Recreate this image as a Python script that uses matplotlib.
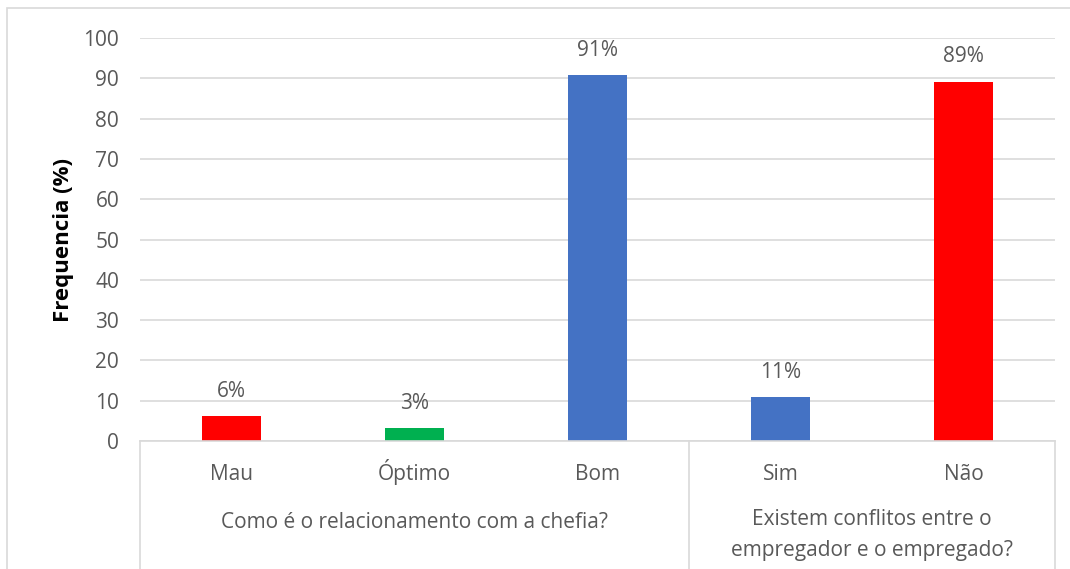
import matplotlib.pyplot as plt
from matplotlib.patches import Rectangle

# survey answers (percent)
categories = ["Mau", "Óptimo", "Bom", "Sim", "Não"]
values = [6.2, 3.2, 90.8, 10.9, 89.1]
colors = ["#FF0000", "#00B050", "#4472C4", "#4472C4", "#FF0000"]
groups = ["Como é o relacionamento com a chefia?",
          "Existem conflitos entre o\nempregador e o empregado?"]
group_spans = [(0, 2), (3, 4)]
yticks = [0, 10, 20, 30, 40, 50, 60, 70, 80, 90, 100]

W, H = 1070, 569
plt.rcParams['font.family'] = ['Open Sans', 'DejaVu Sans']
txt_color = "#595959"
grid_color = "#D9D9D9"
fs = 15

fig = plt.figure(figsize=(W / 100, H / 100), dpi=100)
# chart frame (runs off the right and bottom edges)
fig.patches.append(Rectangle((7 / W, -0.05), 1.0, (H - 8) / H + 0.05,
                             transform=fig.transFigure, fill=False,
                             edgecolor=grid_color, linewidth=1.2))

x0, x1, y0, y1 = 140, 1055, 441, 38
ax = fig.add_axes([x0 / W, (H - y0) / H, (x1 - x0) / W, (y0 - y1) / H])

xs = range(len(categories))
ax.bar(xs, values, width=0.32, color=colors, zorder=3)
for x, v in zip(xs, values):
    ax.annotate("%.0f%%" % v, (x, v), xytext=(0, 18), textcoords="offset points",
                ha="center", va="center", fontsize=fs, color=txt_color)

ax.set_xlim(-0.5, len(categories) - 0.5)
ax.set_ylim(0, 100)
ax.set_yticks(yticks)
ax.set_yticklabels([str(t) for t in yticks], fontsize=fs, color=txt_color)
ax.tick_params(axis="y", length=0, pad=15)
ax.set_xticks([])
ax.grid(axis="y", color=grid_color, linewidth=1.2, zorder=0)
for side in ["top", "right", "left"]:
    ax.spines[side].set_visible(False)
ax.spines["bottom"].set_color(grid_color)
ax.spines["bottom"].set_linewidth(1.2)
ax.spines["bottom"].set_zorder(4)

ax.set_ylabel("Frequencia (%)", fontsize=16, fontweight="bold", color="black", labelpad=7)

# two-level category axis under the plot
trans = ax.get_xaxis_transform()
px = 1 / (y0 - y1)
for x, c in zip(xs, categories):
    ax.text(x, -39 * px, c, transform=trans, ha="center", va="baseline",
            fontsize=fs, color=txt_color)
for (a, b), g in zip(group_spans, groups):
    lines = g.split("\n")
    base = -87 if len(lines) == 1 else -84
    for i, line in enumerate(lines):
        ax.text((a + b) / 2, (base - 31 * i) * px, line, transform=trans,
                ha="center", va="baseline", fontsize=fs, color=txt_color)
for xb in [-0.5, 2.5, 4.5]:
    ax.plot([xb, xb], [0, -0.4], transform=trans, color=grid_color,
            linewidth=1.2, clip_on=False)

fig.savefig("out.png", dpi=100)
